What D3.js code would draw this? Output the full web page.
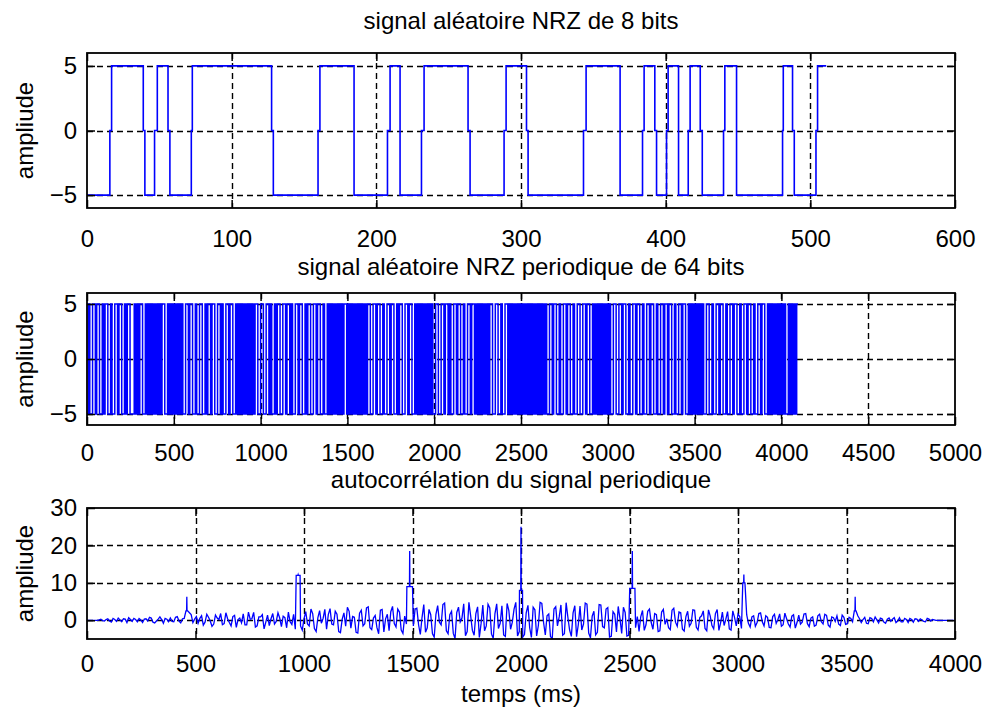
<!DOCTYPE html>
<html><head><meta charset="utf-8">
<script src="https://cdn.jsdelivr.net/npm/d3@7"></script>
<style>
body{margin:0;background:#fff}
text{font-family:"Liberation Sans",Arial,sans-serif;fill:#000}
</style>
</head><body>
<svg id="c" width="985" height="713"></svg>
<script>
// ---------- DATA ----------
// Panel 1: NRZ signal of 8 bits (512 samples). Transition times (start of zero step) and zero-step widths.
const nrz8StartLevel = -5;
const nrz8Edges = [15.8, 38.9, 46.7, 56, 72.1, 127.6, 159.7, 184.6, 207.7, 216.4, 231.2, 263.4, 288.3, 303.8,
                   343.2, 368.5, 384, 392.5, 400.6, 408.9, 415.6, 423.9, 440, 449, 480.8, 487.7, 503.9];
const nrz8ZeroWidth = [1.2, 1.1, 1.9, 1.3, 0.7, 1.2, 1.3, 0, 1.8, 0, 1.8, 1.4, 1.4, 1.1,
                       1.8, 0, 1.1, 1.2, 1.1, 0, 1.3, 1.4, 0.9, 0, 0.5, 1.2, 1.1];
const nrz8End = 511;

// Panel 2: periodic NRZ of 64 bits -> 512 chips of 8 samples (1 = +5, 0 = -5)
const nrz64Chunks = [
  "01001101100101100100110110010110",
  "00101011001010101010101100101010",
  "10101001101100100110010110110011",
  "01001101100101010101010101100110",
  "01101001011001101101001101100101",
  "10011011001001010101010101101010",
  "10101010101100110110010011011001",
  "01100110110010101010101010011001",
  "10110100110110010011011010101010",
  "10110011001001101010101010101010",
  "10101010101001101100100110110010",
  "01100110110010101010101010011001",
  "10110010011011001001101100100110",
  "11011001001101100101010101010011",
  "00100110110010011011001001101100",
  "10011011001010101010101001010101"
];
const nrz64SamplesPerChip = 8;
const nrzLevels = [-5, 5];

// Panel 3: autocorrelation, values at lags 0,16,32,... (acValues) and 8,24,40,... (acValuesMid)
const acStep = 16;
const acValues = [
  0,0,0,0,0.3,-0.2,
  0.4,-0.5,0.2,0.6,-0.4,0.3,0.7,-0.3,0.2,0.5,-0.6,0.4,0.8,-0.5,-0.2,0.9,-0.8,0.3,0.6,-0.4,1.0,-0.7,0.5,
  0.2,
  1.5,0.3,-0.8,1.2,-0.5,0.8,-1.6,1.4,0.2,-1.2,2.0,-0.6,1.0,-1.9,0.6,1.7,-1.2,0.3,2.1,-1.5,0.9,-2.3,1.4,0.4,-1.0,2.0,-1.7,0.7,2.2,-1.1,-2.4,
  1.0,
  -2.6,2.3,-1.5,1.8,-3.0,2.6,0.5,-2.4,3.1,-1.2,1.6,-3.3,2.0,3.5,-2.1,0.8,-3.4,2.7,-0.9,3.6,-2.5,1.3,-3.6,2.9,0.4,-2.8,3.7,-1.8,2.2,-3.5,-1.0,
  2.0,-1.5,
  3.2,-3.8,4.2,-2.0,1.5,-4.5,3.9,-1.2,4.6,-3.6,2.4,-4.9,3.5,0.6,-4.1,4.8,-2.7,1.8,-4.6,4.1,-1.5,3.3,-4.8,4.4,-0.8,-3.9,4.5,-2.4,3.0,-4.2,
  1.0,-3.8,
  4.0,-4.6,2.8,-1.4,4.5,-3.9,1.7,-4.8,3.6,0.9,-4.0,4.7,-2.6,2.0,-4.4,3.8,-1.0,4.3,-4.7,2.4,-3.2,4.1,-2.0,3.4,-4.3,1.6,3.7,-3.5,2.1,-4.0,
  0.5,-2.0,
  -3.0,2.6,-1.2,3.0,-2.4,1.5,-2.8,2.9,0.4,-2.5,3.2,-1.6,2.0,-2.9,2.4,-0.8,2.7,-2.6,1.2,-2.2,2.8,-1.4,1.8,-2.7,2.2,0.3,-2.3,2.5,-1.5,1.0,
  -1.0,
  1.5,-1.8,1.2,-0.6,2.0,-1.5,0.8,-2.0,1.6,0.2,-1.6,1.9,-1.0,1.1,-2.1,1.4,-0.5,1.8,-1.7,0.9,-1.3,1.6,-1.0,1.3,-1.8,0.7,1.2,-1.4,0.8,-0.9,0.5,
  0.3,
  1.2,-0.6,0.8,-0.9,0.5,0.9,-0.7,0.4,-0.8,0.6,0.3,-0.6,0.7,-0.4,0.2,0.5,-0.5,0.3,0.4,-0.3,0.5,-0.2,0.1,
  0,0,0,0,0,0
];
const acValuesMid = [
  0,0,0,0.1,-0.1,0.2,
  -0.2,0.5,-0.3,0.1,0.4,-0.6,0.2,0.5,-0.4,0.1,0.3,-0.2,0.6,-0.7,0.3,0.2,0.5,-0.4,-0.3,0.8,-0.2,0.4,-0.5,
  2.0,
  -0.6,1.0,0.5,-1.3,1.6,-0.2,-1.0,0.6,1.8,-0.9,0.4,-1.5,1.3,0.2,-0.7,-1.2,2.2,0.4,-1.8,0.9,1.5,-0.5,-1.4,1.8,-0.3,0.6,1.1,-2.0,-0.4,1.6,0.8,
  -1.5,
  0.4,-1.0,3.0,-2.2,0.7,-0.8,2.9,1.5,-1.0,2.4,-3.0,0.3,-1.6,2.4,1.0,-3.2,1.9,-1.5,3.3,-2.0,0.6,-1.9,2.7,-3.1,1.6,2.3,-0.9,3.0,-2.6,1.1,-3.2,
  -2.8,3.0,
  -1.2,0.8,-3.2,2.9,-3.6,1.6,-0.5,4.2,-2.8,1.5,-3.5,2.1,-0.4,4.4,-3.0,1.2,-4.0,3.6,-0.9,-2.8,4.3,-3.7,1.8,-2.2,3.9,-4.3,2.6,-0.5,4.8,-3.0,
  -4.5,2.0,
  -2.0,3.5,-4.2,4.8,-0.6,1.2,-4.4,3.0,-1.5,4.1,-3.6,0.8,-4.3,3.9,-1.2,-2.6,4.6,-3.4,1.1,-3.9,4.2,-1.7,3.0,-4.5,2.3,-3.1,0.5,3.5,-4.2,2.6,
  -2.5,1.0,
  1.0,-2.7,2.4,-0.6,1.8,-3.0,2.2,-1.1,-2.0,2.7,-0.5,2.2,-2.4,1.0,-1.6,2.8,-1.9,0.7,2.5,-2.8,1.1,-2.3,2.9,-0.6,-1.4,2.3,-2.6,0.8,1.7,-2.2,
  0.8,
  -0.8,0.9,-1.6,1.8,-0.4,1.2,-1.9,1.0,-0.8,1.7,-1.2,0.4,-1.8,1.5,-0.6,-1.0,1.7,-0.9,0.6,-1.6,1.2,-0.4,1.6,-1.3,0.9,-0.3,-1.0,1.4,-1.1,0.8,-0.4,
  2.0,
  0.4,0.2,-0.8,0.7,-0.4,0.1,0.6,-0.5,0.3,-0.3,0.7,-0.2,-0.4,0.5,-0.6,0.2,0.4,-0.3,0.1,-0.4,0.3,0.2,0,
  0,0,0,0,0
];
// autocorrelation peaks (every ~513 lags)
const acPeakLag   = [460, 973, 1487, 2000, 2513, 3027, 3540];
const acPeakVal   = [6.3, 12.2, 18.5, 25, 18.5, 12.2, 6.3];
const acPeakShelf = [2.5, 12, 9, 8, 8.5, 10, 2.5];
const acPeakWidth = [8, 18, 26, 14, 24, 10, 8];

// ticks & texts
const xTicks1 = [0, 100, 200, 300, 400, 500, 600];
const xTicks2 = [0, 500, 1000, 1500, 2000, 2500, 3000, 3500, 4000, 4500, 5000];
const xTicks3 = [0, 500, 1000, 1500, 2000, 2500, 3000, 3500, 4000];
const yTicksNrz = [-5, 0, 5];
const yTicksAc = [0, 10, 20, 30];
const titles = ["signal aléatoire NRZ de 8 bits", "signal aléatoire NRZ periodique de 64 bits", "autocorrélation du signal periodique"];
const yLabel = "ampliude";
const xLabel = "temps (ms)";

// ---------- BUILD SERIES ----------
const series1 = [[0, nrz8StartLevel]];
{
  let lvl = nrz8StartLevel;
  nrz8Edges.forEach((t, i) => {
    const nl = -lvl, w = nrz8ZeroWidth[i];
    series1.push([t, lvl]);
    if (w > 0) { series1.push([t, 0]); series1.push([t + w, 0]); series1.push([t + w, nl]); }
    else series1.push([t, nl]);
    lvl = nl;
  });
  series1.push([nrz8End, lvl]);
}
const bits64 = nrz64Chunks.join("");
const series2 = [];
{
  let prev = null;
  for (let i = 0; i < bits64.length; i++) {
    const v = nrzLevels[+bits64[i]];
    const t = i * nrz64SamplesPerChip;
    if (prev === null) series2.push([t, v]);
    else if (v !== prev) { series2.push([t, prev]); series2.push([t, v]); }
    prev = v;
  }
  series2.push([bits64.length * nrz64SamplesPerChip - 1, prev]);
}
let series3 = acValues.map((v, i) => [i * acStep, v])
  .concat(acValuesMid.map((v, i) => [i * acStep + acStep / 2, v]));
acPeakLag.forEach((L, k) => {
  const h = acPeakWidth[k] / 2;
  series3 = series3.filter(p => p[0] < L - h || p[0] > L + h);
  series3.push([L - h, acPeakShelf[k]], [L - 1, acPeakShelf[k]], [L, acPeakVal[k]], [L + 1, acPeakShelf[k]], [L + h, acPeakShelf[k]]);
});
series3.sort((a, b) => a[0] - b[0]);

// ---------- DRAW ----------
const svg = d3.select('#c');
svg.append('rect').attr('width', 985).attr('height', 713).attr('fill', '#fff');
const X0 = 87, X1 = 955;
const FS = 24;

function panel(cfg) {
  const x = d3.scaleLinear().domain(cfg.xDomain).range([X0, X1]);
  const y = d3.scaleLinear().domain(cfg.yDomain).range([cfg.bottom, cfg.top]);
  const g = svg.append('g');
  const gx = cfg.xTicks.filter(t => t > cfg.xDomain[0] && t < cfg.xDomain[1]);
  const gy = cfg.yTicks.filter(t => t > cfg.yDomain[0] && t < cfg.yDomain[1]);
  g.selectAll('line.vg').data(gx).join('line').attr('class', 'vg')
    .attr('x1', d => Math.round(x(d)) + 0.5).attr('x2', d => Math.round(x(d)) + 0.5)
    .attr('y1', cfg.top).attr('y2', cfg.bottom)
    .attr('stroke', '#000').attr('stroke-width', 1.4).attr('stroke-dasharray', '6,4');
  g.selectAll('line.hg').data(gy).join('line').attr('class', 'hg')
    .attr('y1', d => Math.round(y(d)) + 0.5).attr('y2', d => Math.round(y(d)) + 0.5)
    .attr('x1', X0).attr('x2', X1)
    .attr('stroke', '#000').attr('stroke-width', 1.4).attr('stroke-dasharray', '6,4');
  const cid = 'clip' + cfg.id;
  svg.append('clipPath').attr('id', cid).append('rect')
    .attr('x', X0).attr('y', cfg.top).attr('width', X1 - X0).attr('height', cfg.bottom - cfg.top);
  g.append('path').datum(cfg.data)
    .attr('clip-path', `url(#${cid})`)
    .attr('d', d3.line().x(d => x(d[0])).y(d => y(d[1])))
    .attr('fill', 'none').attr('stroke', '#0000ff').attr('stroke-width', cfg.lw).attr('stroke-linejoin', 'miter');
  const fmt = d3.format('d');
  const ab = d3.axisBottom(x).tickValues(cfg.xTicks).tickSizeInner(-8).tickSizeOuter(0).tickPadding(cfg.xPad).tickFormat(fmt);
  const at = d3.axisTop(x).tickValues(cfg.xTicks).tickSizeInner(-8).tickSizeOuter(0).tickFormat('');
  const al = d3.axisLeft(y).tickValues(cfg.yTicks).tickSizeInner(-8).tickSizeOuter(0).tickPadding(10).tickFormat(fmt);
  const ar = d3.axisRight(y).tickValues(cfg.yTicks).tickSizeInner(-8).tickSizeOuter(0).tickFormat('');
  const style = sel => {
    sel.select('.domain').remove();
    sel.selectAll('line').attr('stroke', '#000').attr('stroke-width', 1.5);
    sel.selectAll('text').attr('font-size', FS).attr('font-family', '"Liberation Sans",Arial,sans-serif').attr('fill', '#000');
  };
  g.append('g').attr('transform', `translate(0,${cfg.bottom})`).call(ab).call(style);
  g.append('g').attr('transform', `translate(0,${cfg.top})`).call(at).call(style);
  g.append('g').attr('transform', `translate(${X0},0)`).call(al).call(style);
  g.append('g').attr('transform', `translate(${X1},0)`).call(ar).call(style);
  g.append('rect').attr('x', X0).attr('y', cfg.top).attr('width', X1 - X0).attr('height', cfg.bottom - cfg.top)
    .attr('fill', 'none').attr('stroke', '#000').attr('stroke-width', 1.8);
  g.append('text').attr('x', (X0 + X1) / 2).attr('y', cfg.titleY).attr('text-anchor', 'middle')
    .attr('font-size', FS).text(cfg.title);
  g.append('text').attr('transform', `translate(${cfg.yLabX},${(cfg.top + cfg.bottom) / 2}) rotate(-90)`)
    .attr('text-anchor', 'middle').attr('font-size', FS).text(yLabel);
}

panel({id: 1, xDomain: [0, 600], yDomain: [-6, 6], top: 53, bottom: 208, xTicks: xTicks1, yTicks: yTicksNrz,
       data: series1, lw: 1.6, xPad: 22, titleY: 29, title: titles[0], yLabX: 33});
panel({id: 2, xDomain: [0, 5000], yDomain: [-6, 6], top: 293, bottom: 425, xTicks: xTicks2, yTicks: yTicksNrz,
       data: series2, lw: 1.5, xPad: 19, titleY: 275, title: titles[1], yLabX: 33});
panel({id: 3, xDomain: [0, 4000], yDomain: [-5, 30], top: 508, bottom: 639, xTicks: xTicks3, yTicks: yTicksAc,
       data: series3, lw: 1.3, xPad: 16, titleY: 488, title: titles[2], yLabX: 33});

svg.append('text').attr('x', (X0 + X1) / 2).attr('y', 702).attr('text-anchor', 'middle').attr('font-size', FS).text(xLabel);
</script>
</body></html>
